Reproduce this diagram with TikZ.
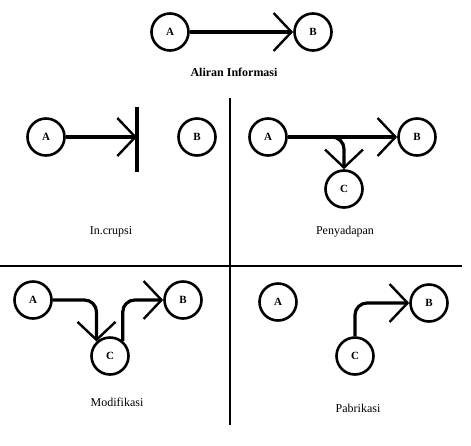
\documentclass[tikz,border=0pt]{standalone}
\usepackage{fontspec}
\setmainfont{Liberation Serif}
\usetikzlibrary{arrows.meta}
\begin{document}
\begin{tikzpicture}[x=1pt,y=-1pt,
  circ/.style={draw,circle,line width=2.6pt,minimum size=37pt,inner sep=0pt,font=\bfseries\fontsize{11}{13}\selectfont},
  arr/.style={line width=3.2pt,-{Straight Barb[length=18pt,width=38pt,line width=2.4pt]},rounded corners=12pt},
  lbl/.style={font=\fontsize{12}{14}\selectfont},
  divider/.style={line width=1.8pt}]
\useasboundingbox (0,0) rectangle (471,445);
% top
\node[circ] (A0) at (170,32) {A};
\node[circ] (B0) at (313,32) {B};
\draw[arr] (A0) -- (B0);
\node[font=\bfseries\fontsize{12}{14}\selectfont] (t0) at (234,72) {Aliran Informasi};
% dividers
\coordinate (vt) at (230,98);
\coordinate (vb) at (230,425);
\coordinate (hl) at (0,266);
\coordinate (hr) at (462,266);
\draw[divider] (vt) -- (vb);
\draw[divider] (hl) -- (hr);
% Interupsi
\node[circ] (A1) at (46,137) {A};
\node[circ] (B1) at (197,137) {B};
\coordinate (w1) at (137,137);
\coordinate (wt) at (137,107);
\coordinate (wb) at (137,172);
\draw[arr] (A1) -- (w1);
\draw[line width=3.2pt] (wt) -- (wb);
\node[lbl] (t1) at (111,232) {In.crupsi};
% Penyadapan
\node[circ] (A2) at (268,137) {A};
\node[circ] (B2) at (417,137) {B};
\node[circ] (C2) at (344,189) {C};
\draw[arr] (A2) -- (B2);
\coordinate (s2) at (318,137);
\draw[arr] (s2) -| (C2);
\node[lbl] (t2) at (345,232) {Penyadapan};
% Modifikasi
\node[circ] (A3) at (33,300) {A};
\node[circ] (B3) at (183,300) {B};
\node[circ] (C3) at (110,356) {C};
\draw[arr] (A3) -| (C3.133);
\draw[arr] (C3.50) |- (B3);
\node[lbl] (t3) at (117,402) {Modifikasi};
% Pabrikasi
\node[circ] (A4) at (278,302) {A};
\node[circ] (B4) at (429,303) {B};
\node[circ] (C4) at (355,356) {C};
\draw[arr] (C4) |- (B4);
\node[lbl] (t4) at (358,408) {Pabrikasi};
\end{tikzpicture}
\end{document}
